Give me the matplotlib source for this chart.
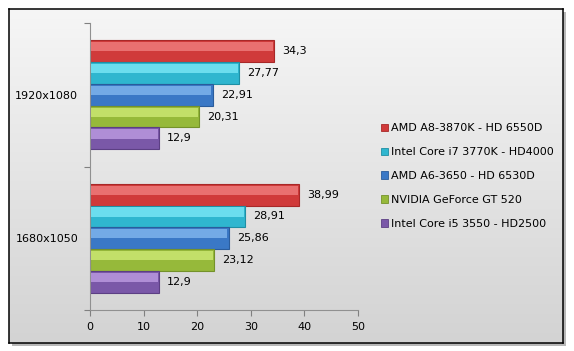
import matplotlib
matplotlib.use("Agg")
import matplotlib.pyplot as plt
import numpy as np
from matplotlib.patches import Patch, Rectangle
from matplotlib.colors import LinearSegmentedColormap

categories = ["1680x1050", "1920x1080"]
series = ["AMD A8-3870K - HD 6550D", "Intel Core i7 3770K - HD4000",
          "AMD A6-3650 - HD 6530D", "NVIDIA GeForce GT 520",
          "Intel Core i5 3550 - HD2500"]
values = [
    [38.99, 34.3],
    [28.91, 27.77],
    [25.86, 22.91],
    [23.12, 20.31],
    [12.9, 12.9],
]
labels = [
    ["38,99", "34,3"],
    ["28,91", "27,77"],
    ["25,86", "22,91"],
    ["23,12", "20,31"],
    ["12,9", "12,9"],
]
base_colors = ["#d03a3a", "#2fb6cf", "#3a78c6", "#96b93a", "#7a58a8"]
light_colors = ["#f48888", "#86eefc", "#8cc0f4", "#d6f07e", "#c6a6ea"]
edge_colors = ["#a82828", "#1f8fa4", "#2a5c9c", "#74922a", "#5c3f84"]

W, H = 574, 351
fig = plt.figure(figsize=(W / 100, H / 100), dpi=100)
fig.patch.set_facecolor("white")

# frame with shadow and gradient
fl, fr, ft, fb = 9 / W, 563 / W, 1 - 9 / H, 1 - 343 / H
fig.patches.append(Rectangle((fl + 3 / W, fb - 3 / H), fr - fl, ft - fb,
                             transform=fig.transFigure, facecolor="#b8b8b8",
                             edgecolor="none", zorder=0))
bg = fig.add_axes([fl, fb, fr - fl, ft - fb], zorder=0.5)
grad = np.linspace(0, 1, 256).reshape(-1, 1)
cm = LinearSegmentedColormap.from_list("g", ["#f6f6f6", "#d3d3d3"])
bg.imshow(grad, aspect="auto", cmap=cm, extent=[0, 1, 0, 1], origin="upper")
bg.set_xticks([]); bg.set_yticks([])
for s in bg.spines.values():
    s.set_color("black"); s.set_linewidth(1.1)

ax = fig.add_axes([90 / W, 1 - 310 / H, (358 - 90) / W, (310 - 23) / H], zorder=1)
ax.patch.set_alpha(0)

n = len(series)
h = 0.152
y = np.arange(len(categories))
for i in range(n):
    off = (n - 1) / 2 - i
    ys = y + off * h
    v = np.array(values[i])
    ax.barh(ys, v, height=h, color=base_colors[i], edgecolor=edge_colors[i],
            linewidth=0.8, zorder=2)
    # bevel highlight on upper half
    ax.barh(ys + h * 0.2, v - 0.5, left=0.25, height=h * 0.42,
            color=light_colors[i], edgecolor="none", alpha=0.7, zorder=3)
    for yy, vv, lab in zip(ys, v, labels[i]):
        ax.text(vv + 1.5, yy, lab, va="center", ha="left", fontsize=8,
                color="black", zorder=4)

ax.set_xlim(0, 50)
ax.set_ylim(-0.5, 1.5)
ax.set_xticks(np.arange(0, 51, 10))
ax.set_yticks([-0.5, 0.5, 1.5])
ax.set_yticklabels([])
ax.set_yticks(y, minor=True)
ax.set_yticklabels(categories, minor=True, fontsize=8)
ax.tick_params(axis="y", which="minor", length=0, pad=8.5)
ax.tick_params(axis="y", which="major", length=4, color="#808080", direction="out")
ax.tick_params(axis="x", length=4, color="#808080", labelsize=8, pad=5)
for s in ["top", "right"]:
    ax.spines[s].set_visible(False)
for s in ["left", "bottom"]:
    ax.spines[s].set_color("#909090")

handles = [Patch(facecolor=base_colors[i], edgecolor=edge_colors[i], linewidth=0.6)
           for i in range(n)]
fig.legend(handles, series, loc="center left",
           bbox_to_anchor=(381 / W, 1 - 176 / H), frameon=False, fontsize=8,
           handlelength=0.65, handleheight=0.65, handletextpad=0.25,
           labelspacing=1.25, borderpad=0, borderaxespad=0)

fig.savefig("out.png", dpi=100)
